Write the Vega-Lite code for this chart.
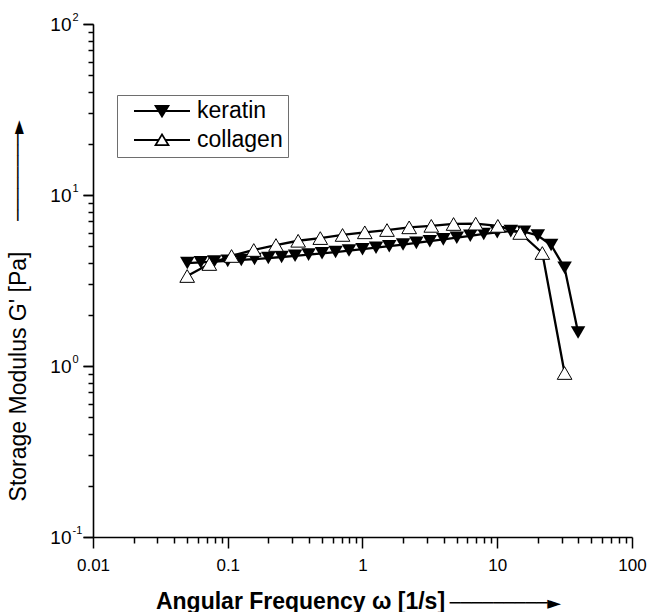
{
  "$schema": "https://vega.github.io/schema/vega-lite/v6.json",
  "width": 539,
  "height": 513,
  "autosize": {"type": "none"},
  "padding": {"left": 93, "top": 24, "right": 15, "bottom": 75},
  "background": "white",
  "config": {
    "view": {"stroke": null},
    "font": "Liberation Sans",
    "axis": {
      "grid": false,
      "domainColor": "black",
      "tickColor": "black",
      "labelColor": "black",
      "titleColor": "black",
      "domainWidth": 1.6,
      "tickWidth": 1.5,
      "labelFont": "Liberation Sans",
      "titleFont": "Liberation Sans"
    }
  },
  "datasets": {
    "d": [
      {"series": "keratin", "w": 0.0501, "g": 4.0},
      {"series": "keratin", "w": 0.0631, "g": 4.04},
      {"series": "keratin", "w": 0.0794, "g": 4.08},
      {"series": "keratin", "w": 0.1, "g": 4.12},
      {"series": "keratin", "w": 0.126, "g": 4.17},
      {"series": "keratin", "w": 0.158, "g": 4.22},
      {"series": "keratin", "w": 0.2, "g": 4.28},
      {"series": "keratin", "w": 0.251, "g": 4.34},
      {"series": "keratin", "w": 0.316, "g": 4.41},
      {"series": "keratin", "w": 0.398, "g": 4.48},
      {"series": "keratin", "w": 0.501, "g": 4.56},
      {"series": "keratin", "w": 0.631, "g": 4.64},
      {"series": "keratin", "w": 0.794, "g": 4.73},
      {"series": "keratin", "w": 1.0, "g": 4.82},
      {"series": "keratin", "w": 1.26, "g": 4.92},
      {"series": "keratin", "w": 1.58, "g": 5.02},
      {"series": "keratin", "w": 2.0, "g": 5.13},
      {"series": "keratin", "w": 2.51, "g": 5.25},
      {"series": "keratin", "w": 3.16, "g": 5.37},
      {"series": "keratin", "w": 3.98, "g": 5.5},
      {"series": "keratin", "w": 5.01, "g": 5.63},
      {"series": "keratin", "w": 6.31, "g": 5.77},
      {"series": "keratin", "w": 7.94, "g": 5.92},
      {"series": "keratin", "w": 10.0, "g": 6.05},
      {"series": "keratin", "w": 12.6, "g": 6.15},
      {"series": "keratin", "w": 15.8, "g": 6.1},
      {"series": "keratin", "w": 20.0, "g": 5.8},
      {"series": "keratin", "w": 25.1, "g": 5.1},
      {"series": "keratin", "w": 31.6, "g": 3.75},
      {"series": "keratin", "w": 39.8, "g": 1.57},
      {"series": "collagen", "w": 0.05, "g": 3.36},
      {"series": "collagen", "w": 0.073, "g": 3.95},
      {"series": "collagen", "w": 0.1067, "g": 4.4},
      {"series": "collagen", "w": 0.156, "g": 4.77},
      {"series": "collagen", "w": 0.228, "g": 5.1},
      {"series": "collagen", "w": 0.333, "g": 5.4},
      {"series": "collagen", "w": 0.486, "g": 5.6},
      {"series": "collagen", "w": 0.711, "g": 5.84},
      {"series": "collagen", "w": 1.04, "g": 6.05},
      {"series": "collagen", "w": 1.52, "g": 6.24},
      {"series": "collagen", "w": 2.22, "g": 6.47},
      {"series": "collagen", "w": 3.24, "g": 6.6},
      {"series": "collagen", "w": 4.74, "g": 6.77},
      {"series": "collagen", "w": 6.92, "g": 6.8},
      {"series": "collagen", "w": 10.1, "g": 6.6},
      {"series": "collagen", "w": 14.8, "g": 6.0},
      {"series": "collagen", "w": 21.6, "g": 4.58},
      {"series": "collagen", "w": 31.6, "g": 0.91}
    ]
  },
  "data": {"name": "d"},
  "layer": [
    {
      "mark": {"type": "line", "color": "black", "strokeWidth": 2.3},
      "encoding": {
        "x": {
          "field": "w", "type": "quantitative",
          "scale": {"type": "log", "domain": [0.01, 100], "nice": false},
          "axis": {
            "orient": "bottom",
            "values": [0.01, 0.1, 1, 10, 100],
            "labelExpr": "format(datum.value, '~g')",
            "labelFontSize": 17,
            "tickSize": 11,
            "labelPadding": 9,
            "labelFlush": false,
            "labelOverlap": false,
            "title": "Angular Frequency ω [1/s]",
            "titleFontSize": 23,
            "titleFontWeight": "bold",
            "titleAlign": "center",
            "titleBaseline": "alphabetic",
            "titleX": 207,
            "titleY": 71
          }
        },
        "y": {
          "field": "g", "type": "quantitative",
          "scale": {"type": "log", "domain": [0.1, 100], "nice": false},
          "axis": {
            "orient": "left",
            "values": [0.1, 1, 10, 100],
            "labelExpr": "'10'",
            "labelFontSize": 19,
            "tickSize": 10,
            "labelPadding": 12,
            "labelBaseline": "middle",
            "labelOverlap": false,
            "labelFlush": false,
            "encode": {"labels": {"update": {"dx": {"signal": "datum.value < 1 ? -5 : 0"}}}},
            "title": "Storage Modulus G' [Pa]",
            "titleFontSize": 23,
            "titleFontWeight": "normal",
            "titleAngle": 270,
            "titleAlign": "center",
            "titleBaseline": "middle",
            "titleX": -75,
            "titleY": 352
          }
        },
        "detail": {"field": "series", "type": "nominal"}
      }
    },
    {
      "transform": [{"filter": "datum.series === 'keratin'"}],
      "mark": {"type": "point", "shape": "triangle-down", "filled": true, "color": "black", "size": 210, "opacity": 1},
      "encoding": {
        "x": {
          "field": "w", "type": "quantitative",
          "axis": {
            "orient": "bottom",
            "values": [0.02, 0.03, 0.04, 0.05, 0.06, 0.07, 0.08, 0.09, 0.2, 0.3, 0.4, 0.5, 0.6, 0.7, 0.8, 0.9, 2, 3, 4, 5, 6, 7, 8, 9, 20, 30, 40, 50, 60, 70, 80, 90],
            "labels": false,
            "domain": false,
            "tickSize": 6,
            "title": "─────────►",
            "titleFont": "DejaVu Sans",
            "titleFontSize": 18,
            "titleFontWeight": "normal",
            "titleAlign": "center",
            "titleBaseline": "middle",
            "titleX": 412,
            "titleY": 66
          }
        },
        "y": {
          "field": "g", "type": "quantitative",
          "axis": {
            "orient": "left",
            "values": [0.2, 0.3, 0.4, 0.5, 0.6, 0.7, 0.8, 0.9, 2, 3, 4, 5, 6, 7, 8, 9, 20, 30, 40, 50, 60, 70, 80, 90],
            "labels": false,
            "domain": false,
            "tickSize": 5,
            "title": "────────►",
            "titleFont": "DejaVu Sans",
            "titleFontSize": 18,
            "titleFontWeight": "normal",
            "titleAngle": 270,
            "titleAlign": "center",
            "titleBaseline": "middle",
            "titleX": -75,
            "titleY": 146
          }
        }
      }
    },
    {
      "transform": [{"filter": "datum.series === 'collagen'"}],
      "mark": {"type": "point", "shape": "triangle-up", "filled": true, "fill": "white", "stroke": "black", "strokeWidth": 1, "size": 215, "opacity": 1},
      "encoding": {
        "x": {"field": "w", "type": "quantitative", "axis": null},
        "y": {
          "field": "g", "type": "quantitative",
          "axis": {
            "orient": "left",
            "values": [0.1, 1, 10, 100],
            "labelExpr": "datum.value === 100 ? '2' : datum.value === 10 ? '1' : datum.value === 1 ? '0' : '-1'",
            "labelFontSize": 11,
            "labelAlign": "left",
            "labelBaseline": "middle",
            "labelOffset": -7,
            "labelPadding": 11,
            "labelOverlap": false,
            "labelFlush": false,
            "domain": false,
            "tickSize": 10,
            "title": null
          }
        }
      }
    },
    {
      "transform": [{"filter": "false"}],
      "mark": {"type": "point", "filled": true, "strokeWidth": 1.8, "opacity": 1},
      "encoding": {
        "x": {"field": "w", "type": "quantitative", "axis": null},
        "y": {"field": "g", "type": "quantitative", "axis": null},
        "shape": {
          "field": "series", "type": "nominal",
          "scale": {"domain": ["keratin", "collagen"], "range": ["M-1,0L-0.12,0M0.12,0L1,0M-0.23,-0.18L0.23,-0.18L0,0.2Z", "M-1,0L-0.12,0M0.12,0L1,0M-0.23,0.18L0.23,0.18L0,-0.2Z"]},
          "legend": {
            "orient": "none", "legendX": 24, "legendY": 71, "title": null,
            "direction": "vertical",
            "strokeColor": "#6e6e6e", "padding": 5,
            "labelFont": "Liberation Sans", "labelFontSize": 23, "labelColor": "black",
            "symbolSize": 3136, "symbolStrokeWidth": 1.8, "symbolOpacity": 1,
            "symbolOffset": 11, "labelOffset": 6,
            "clipHeight": 22, "rowPadding": 6
          }
        },
        "fill": {
          "field": "series", "type": "nominal",
          "scale": {"domain": ["keratin", "collagen"], "range": ["black", "white"]},
          "legend": {
            "orient": "none", "legendX": 24, "legendY": 71, "title": null,
            "direction": "vertical",
            "strokeColor": "#6e6e6e", "padding": 5,
            "labelFont": "Liberation Sans", "labelFontSize": 23, "labelColor": "black",
            "symbolSize": 3136, "symbolStrokeWidth": 1.8, "symbolOpacity": 1,
            "symbolOffset": 11, "labelOffset": 6,
            "clipHeight": 22, "rowPadding": 6
          }
        },
        "stroke": {
          "field": "series", "type": "nominal",
          "scale": {"domain": ["keratin", "collagen"], "range": ["black", "black"]},
          "legend": {
            "orient": "none", "legendX": 24, "legendY": 71, "title": null,
            "direction": "vertical",
            "strokeColor": "#6e6e6e", "padding": 5,
            "labelFont": "Liberation Sans", "labelFontSize": 23, "labelColor": "black",
            "symbolSize": 3136, "symbolStrokeWidth": 1.8, "symbolOpacity": 1,
            "symbolOffset": 11, "labelOffset": 6,
            "clipHeight": 22, "rowPadding": 6
          }
        }
      }
    }
  ],
  "resolve": {"axis": {"x": "independent", "y": "independent"}}
}
